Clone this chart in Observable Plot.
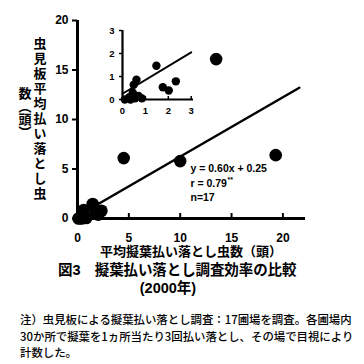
<!DOCTYPE html>
<html><head><meta charset="utf-8">
<script src="https://cdn.jsdelivr.net/npm/d3@7"></script>
<script src="https://cdn.jsdelivr.net/npm/@observablehq/plot@0.6"></script>
<style>
body{margin:0;background:#fff;}
#wrap{position:relative;width:364px;height:364px;overflow:hidden;background:#fff;font-family:"Liberation Sans","Noto Sans CJK JP",sans-serif;color:#000;}
.abs{position:absolute;white-space:nowrap;}
.vcol{position:absolute;writing-mode:vertical-rl;font-family:"Noto Sans CJK JP";font-weight:bold;font-size:13px;line-height:1;white-space:nowrap;}
.cjk{font-family:"Liberation Sans","Noto Sans CJK JP";font-weight:bold;}
</style></head>
<body><div id="wrap"></div>
<script>
// data
const xVals = [13.5, 4.5, 10.0, 19.3, 0.1, 0.3, 0.45, 0.55, 0.7, 0.85, 0.35, 0.49, 0.61, 1.48, 1.76, 2.02, 2.33];
const yVals = [16.1, 6.1, 5.8, 6.4, 0.0, 0.1, 0.3, 0.05, 0.15, 0.05, 0.0, 0.64, 0.86, 1.47, 0.53, 0.39, 0.79];
const mainTicks = [0, 5, 10, 15, 20];
const insetTicks = [0, 1, 2, 3];
const regSlope = 0.60, regIntercept = 0.25;
const mainLineX = [0, 21.6];
const insetLineX = [0, 3.0];
const statLines = ["y = 0.60x + 0.25", "r = 0.79", "n=17"];
const statY = [5.05, 3.54, 2.12];
const statX = 11.0;
const yLabelCol1 = "虫見板平均払い落とし虫";
const yLabelCol2 = "数（頭）";
const xLabel = "平均擬葉払い落とし虫数（頭）";
const title1 = "図3　擬葉払い落とし調査効率の比較";
const title2 = "(2000年)";
const noteLines = ["注）虫見板による擬葉払い落とし調査：17圃場を調査。各圃場内",
  "30か所で擬葉を1ヵ所当たり3回払い落とし、その場で目視により",
  "計数した。"];

const pts = xVals.map((x, i) => ({x, y: yVals[i]}));
const mainLine = mainLineX.map(x => ({x, y: regSlope * x + regIntercept}));
const insetLine = insetLineX.map(x => ({x, y: regSlope * x + regIntercept}));
const stats = statLines.map((t, i) => ({t, x: statX, y: statY[i]}));

const wrap = document.getElementById("wrap");
const font = '"Liberation Sans","Noto Sans CJK JP",sans-serif';

const main = Plot.plot({
  width: 364, height: 260,
  marginLeft: 77, marginRight: 59, marginTop: 20, marginBottom: 42,
  x: {domain: [0, 22.2]},
  y: {domain: [0, 20]},
  style: {fontFamily: font, fontWeight: "bold", fontSize: "12px", background: "transparent", overflow: "visible"},
  marks: [
    Plot.axisY({ticks: mainTicks, tickSize: 5, tickPadding: 4, label: null, strokeWidth: 2, tickFormat: d => String(d)}),
    Plot.axisX({ticks: mainTicks, tickSize: 0, tickPadding: 14.5, label: null, tickFormat: d => String(d)}),
    Plot.ruleX(mainTicks.slice(1), {x: d => d, y1: 0, y2: 0.5, strokeWidth: 2}),
    Plot.ruleY([0], {strokeWidth: 3}),
    Plot.ruleX([0], {strokeWidth: 3}),
    Plot.line(mainLine, {x: "x", y: "y", strokeWidth: 2.5}),
    Plot.dot(pts, {x: "x", y: "y", r: 6.3, fill: "#000", stroke: "none"}),
    Plot.text(stats, {x: "x", y: "y", text: "t", textAnchor: "start", lineAnchor: "middle", fontSize: 10.5, fontWeight: "bold"}),
    Plot.text([stats[1]], {x: "x", y: "y", text: () => "**", textAnchor: "start", lineAnchor: "middle", fontSize: 7, fontWeight: "bold", dx: 37, dy: -4})
  ]
});
main.style.position = "absolute"; main.style.left = "0px"; main.style.top = "0px";
wrap.appendChild(main);

const inset = Plot.plot({
  width: 110, height: 110,
  marginLeft: 32, marginRight: 7, marginTop: 15, marginBottom: 26,
  x: {domain: [0, 3.1]},
  y: {domain: [0, 3]},
  style: {fontFamily: font, fontWeight: "bold", fontSize: "9.5px", background: "transparent", overflow: "visible"},
  marks: [
    Plot.axisY({ticks: insetTicks, tickSize: 3, tickPadding: 5, label: null, strokeWidth: 1.5, tickFormat: d => String(d)}),
    Plot.axisX({ticks: insetTicks, tickSize: 0, tickPadding: 8, label: null, tickFormat: d => String(d)}),
    Plot.ruleX(insetTicks.slice(1), {x: d => d, y1: 0, y2: 0.13, strokeWidth: 1.5}),
    Plot.ruleY([0], {strokeWidth: 2.2}),
    Plot.ruleX([0], {strokeWidth: 2.2}),
    Plot.line(insetLine, {x: "x", y: "y", strokeWidth: 2}),
    Plot.dot(pts.filter(d => d.x <= 3), {x: "x", y: "y", r: 4.2, fill: "#000", stroke: "none"})
  ]
});
inset.style.position = "absolute"; inset.style.left = "90px"; inset.style.top = "15px";
wrap.appendChild(inset);

function addDiv(cls, text, css) {
  const d = document.createElement("div");
  d.className = cls;
  d.textContent = text;
  Object.assign(d.style, css);
  wrap.appendChild(d);
  return d;
}
addDiv("vcol", yLabelCol1, {left: "33.5px", top: "37px", letterSpacing: "2px"});
addDiv("vcol", yLabelCol2, {left: "18.5px", top: "87px"});
addDiv("abs cjk", xLabel, {left: "191px", top: "245px", fontSize: "13px", lineHeight: "13px", transform: "translateX(-50%)"});
addDiv("abs cjk", title1, {left: "58px", top: "263px", fontSize: "14.5px", lineHeight: "15px", letterSpacing: "-0.1px"});
addDiv("abs cjk", title2, {left: "168px", top: "281px", fontSize: "14.5px", lineHeight: "15px", transform: "translateX(-50%)"});
noteLines.forEach((t, i) => {
  addDiv("abs", t, {left: "20px", top: (311 + i * 16.5) + "px", fontSize: "11.4px", lineHeight: "16px", fontFamily: '"Noto Sans CJK JP"', fontWeight: "500"});
});
</script>
</body></html>
